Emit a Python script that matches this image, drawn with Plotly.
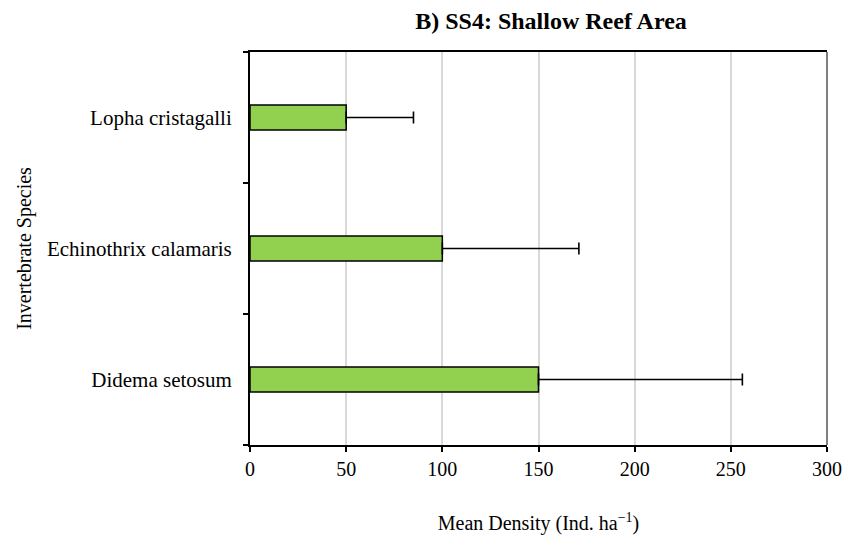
import plotly.graph_objects as go

# Invertebrate species recorded at SS4 (bottom to top on the chart)
species = ["Didema setosum", "Echinothrix calamaris", "Lopha cristagalli"]
mean_density = [150, 100, 50]
error_plus = [106, 71, 35]
x_ticks = [0, 50, 100, 150, 200, 250, 300]

serif = "Liberation Serif, Times New Roman, serif"

fig = go.Figure()
fig.add_trace(go.Bar(
    y=species,
    x=mean_density,
    orientation="h",
    width=0.19,
    marker=dict(color="#92d050", line=dict(color="black", width=1.5)),
    error_x=dict(type="data", array=error_plus, symmetric=False,
                 arrayminus=[0, 0, 0], color="black", thickness=1.6, width=6),
    showlegend=False,
))

fig.update_layout(
    width=846, height=537,
    margin=dict(l=250, r=19, t=52, b=92),
    paper_bgcolor="white", plot_bgcolor="white",
    font=dict(family=serif, size=20, color="black"),
    title=dict(text="<b>B) SS4: Shallow Reef Area</b>", x=551 / 846, xanchor="center",
               y=1 - 21 / 537, yanchor="middle", font=dict(family=serif, size=24)),
    xaxis=dict(
        automargin=False,
        range=[0, 300], tickvals=x_ticks, ticks="outside", ticklen=5,
        tickwidth=1.5, tickcolor="black",
        showline=True, linecolor="black", linewidth=2, mirror=True,
        showgrid=True, gridcolor="#d9d9d9", gridwidth=2, zeroline=False,
        title=dict(text="Mean Density (Ind. ha<sup>−1</sup>)",
                   font=dict(family=serif, size=20), standoff=37),
        tickfont=dict(family=serif, size=20),
    ),
    yaxis=dict(
        automargin=False,
        categoryorder="array", categoryarray=species,
        range=[-0.5, 2.5],
        tickson="boundaries", ticks="outside", ticklen=5, tickwidth=1.5,
        tickcolor="black", ticklabelstandoff=12,
        showline=True, linecolor="black", linewidth=2,
        showgrid=False, zeroline=False,
        title=dict(text="Invertebrate Species", font=dict(family=serif, size=20),
                   standoff=10),
        tickfont=dict(family=serif, size=21),
    ),
    shapes=[dict(type="line", xref="paper", yref="paper", x0=1, x1=1, y0=0, y1=1,
                 line=dict(color="black", width=1))],
)

fig.write_html("out.html")
